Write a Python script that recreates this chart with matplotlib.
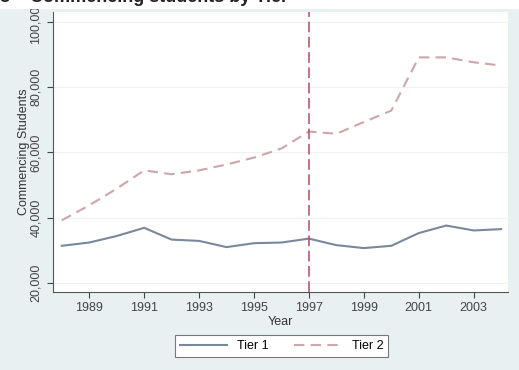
import matplotlib.pyplot as plt
import matplotlib.patches as mpatches

# commencing students per year, by tier
years = list(range(1988, 2005))
tier1 = [31400, 32400, 34400, 36900, 33300, 32900, 31000, 32200, 32400,
         33600, 31600, 30700, 31400, 35300, 37600, 36100, 36500]
tier2 = [39200, 43800, 48900, 54500, 53300, 54500, 56300, 58400, 61200,
         66400, 65700, 69300, 72800, 89100, 89100, 87600, 86600]
xticks = [1989, 1991, 1993, 1995, 1997, 1999, 2001, 2003]
yticks = [20000, 40000, 60000, 80000, 100000]
cutoff_year = 1997

bg = '#e9f0f2'
plt.rcParams['font.family'] = ['Liberation Sans', 'DejaVu Sans']

fig = plt.figure(figsize=(5.19, 3.70), dpi=100)
fig.patch.set_facecolor(bg)

ax = fig.add_axes([53 / 519, 78 / 370, 455 / 519, 280 / 370])
ax.set_facecolor('white')

ax.plot(years, tier1, color='#7a889b', lw=1.5, label='Tier 1')
ax.plot(years, tier2, color='#cca6ab', lw=1.5, dashes=(5, 3), label='Tier 2')
ax.axvline(cutoff_year, color='#b44a63', lw=1.1, dashes=(7, 3))

ax.set_xlim(1987.68, 2004.25)
ax.set_ylim(17250, 103000)
ax.set_xticks(xticks)
ax.set_yticks(yticks)
ax.set_yticklabels([f'{v:,}' for v in yticks], rotation=90, va='center')
ax.tick_params(labelsize=9, colors='#444444', length=4, width=0.8)
ax.tick_params(axis='y', pad=4)
ax.grid(axis='y', color='#eef2f3', lw=0.8)

for side in ['top', 'right']:
    ax.spines[side].set_visible(False)
for side in ['left', 'bottom']:
    ax.spines[side].set_color('#555555')
    ax.spines[side].set_linewidth(0.8)

ax.set_xlabel('Year', fontsize=9, color='#333333', labelpad=1)
ax.set_ylabel('Commencing Students', fontsize=9, color='#333333', labelpad=0)

leg = fig.legend(loc='center', bbox_to_anchor=(281.5 / 519, 24 / 370), ncol=2,
                 fontsize=9, handlelength=3.8, columnspacing=2.0,
                 fancybox=False, framealpha=1, edgecolor='#777777',
                 borderpad=0.4)
leg.get_frame().set_linewidth(0.8)

# white strip across the top holding the title, drawn over the axes labels
fig.add_artist(mpatches.Rectangle((0, 1 - 9 / 370), 1, 9 / 370,
                                  transform=fig.transFigure, zorder=5,
                                  facecolor='white', edgecolor='none'))
fig.text(0.0, 1.0 + 2 / 370, '8    Commencing students by Tier', fontsize=13,
         fontweight='bold', color='#222222', va='center', ha='left', zorder=6)

fig.savefig('out.png', dpi=100, facecolor=bg)
